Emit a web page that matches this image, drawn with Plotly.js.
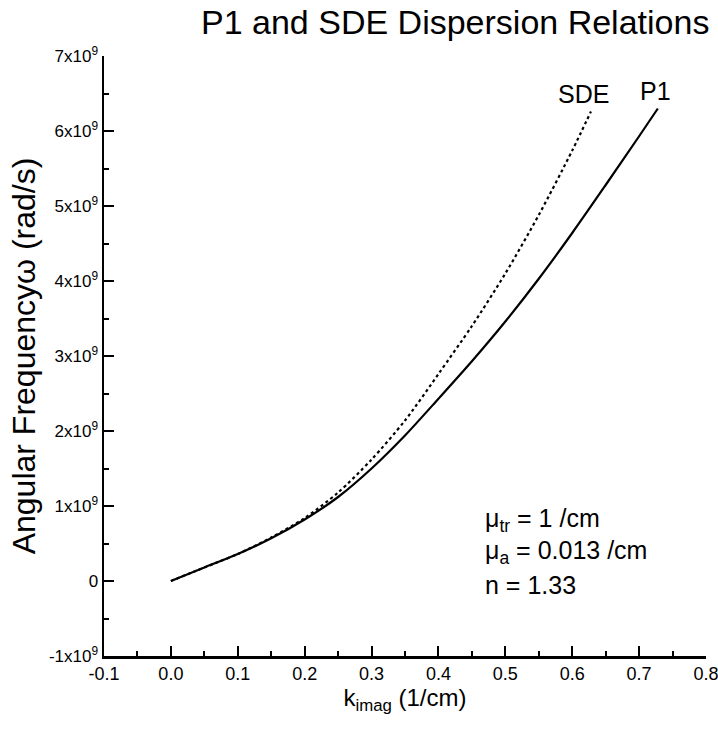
<!DOCTYPE html>
<html>
<head>
<meta charset="utf-8">
<script src="https://cdn.plot.ly/plotly-3.0.1.min.js"></script>
<style>html,body{margin:0;padding:0;background:#fff;}#chart{width:718px;height:730px;}</style>
</head>
<body>
<div id="chart"></div>
<script>
// Data (omega in rad/s)
const p1K = [0, 0.05, 0.1, 0.15, 0.2, 0.25, 0.3, 0.35, 0.4, 0.45, 0.5, 0.55, 0.6, 0.65, 0.7, 0.728];
const p1W = [0, 0.18e9, 0.36e9, 0.57e9, 0.82e9, 1.12e9, 1.50e9, 1.94e9, 2.43e9, 2.93e9, 3.46e9, 4.03e9, 4.64e9, 5.28e9, 5.93e9, 6.30e9];
const sdeK = [0, 0.05, 0.1, 0.15, 0.2, 0.25, 0.3, 0.35, 0.4, 0.45, 0.5, 0.55, 0.6, 0.628];
const sdeW = [0, 0.18e9, 0.36e9, 0.58e9, 0.84e9, 1.18e9, 1.62e9, 2.14e9, 2.76e9, 3.40e9, 4.10e9, 4.88e9, 5.74e9, 6.26e9];
const yTickVals = [-1e9, 0, 1e9, 2e9, 3e9, 4e9, 5e9, 6e9, 7e9];
const yTickText = ['-1x10<sup>9</sup>', '0', '1x10<sup>9</sup>', '2x10<sup>9</sup>', '3x10<sup>9</sup>', '4x10<sup>9</sup>', '5x10<sup>9</sup>', '6x10<sup>9</sup>', '7x10<sup>9</sup>'];
const xTickVals = [-0.1, 0.0, 0.1, 0.2, 0.3, 0.4, 0.5, 0.6, 0.7, 0.8];
const xTickText = ['-0.1', '0.0', '0.1', '0.2', '0.3', '0.4', '0.5', '0.6', '0.7', '0.8'];
const curveLabels = ['SDE', 'P1'];
const paramLines = ['μ<sub>tr</sub> = 1 /cm', 'μ<sub>a</sub> = 0.013 /cm', 'n = 1.33'];

const F = 'Liberation Sans, Arial, sans-serif';

const traces = [
  {x: p1K, y: p1W, mode: 'lines', name: 'P1', line: {color: '#000', width: 2.2, shape: 'spline', smoothing: 0.8}},
  {x: sdeK, y: sdeW, mode: 'lines', name: 'SDE', line: {color: '#000', width: 2.2, dash: 'dot', shape: 'spline', smoothing: 0.8}}
];

const annotations = [
  {x: sdeK[sdeK.length-1], y: sdeW[sdeW.length-1], xref: 'x', yref: 'y', text: curveLabels[0], showarrow: false, xanchor: 'center', yanchor: 'bottom', xshift: -7, yshift: 2, font: {family: F, size: 25, color: '#000'}},
  {x: p1K[p1K.length-1], y: p1W[p1W.length-1], xref: 'x', yref: 'y', text: curveLabels[1], showarrow: false, xanchor: 'center', yanchor: 'bottom', xshift: -2, yshift: 2, font: {family: F, size: 25, color: '#000'}}
];
const paramY = [0.227, 0.173, 0.118];
paramLines.forEach((t, i) => {
  annotations.push({x: 0.63, y: paramY[i], xref: 'paper', yref: 'paper', text: t, showarrow: false, xanchor: 'left', yanchor: 'middle', font: {family: F, size: 25, color: '#000'}});
});

const layout = {
  width: 718, height: 730,
  margin: {l: 104, r: 12, t: 56, b: 74},
  paper_bgcolor: '#fff', plot_bgcolor: '#fff',
  showlegend: false,
  font: {family: F, color: '#000'},
  title: {text: 'P1 and SDE Dispersion Relations', font: {family: F, size: 34, color: '#000'}, xref: 'container', yref: 'container', x: 0.634, xanchor: 'center', y: 0.97, yanchor: 'middle'},
  xaxis: {
    range: [-0.1, 0.8], tickmode: 'array', tickvals: xTickVals, ticktext: xTickText,
    showgrid: false, zeroline: false, showline: true, linecolor: '#000', linewidth: 2.5,
    ticks: 'inside', ticklen: 10, tickwidth: 2, tickcolor: '#000', ticklabeloverflow: 'allow',
    minor: {ticks: 'inside', ticklen: 5, tickwidth: 2, tickcolor: '#000', dtick: 0.05, showgrid: false},
    tickfont: {family: F, size: 18, color: '#000'},
    title: {text: 'k<sub>imag</sub> (1/cm)', font: {family: F, size: 24, color: '#000'}, standoff: 2}
  },
  yaxis: {
    range: [-1e9, 7e9], tickmode: 'array', tickvals: yTickVals, ticktext: yTickText,
    showgrid: false, zeroline: false, showline: true, linecolor: '#000', linewidth: 2.5,
    ticks: 'inside', ticklen: 10, tickwidth: 2, tickcolor: '#000', ticklabeloverflow: 'allow',
    minor: {ticks: 'inside', ticklen: 5, tickwidth: 2, tickcolor: '#000', dtick: 0.5e9, showgrid: false},
    tickfont: {family: F, size: 17, color: '#000'},
    title: {text: 'Angular Frequencyω (rad/s)', font: {family: F, size: 32, color: '#000'}, standoff: 4}
  },
  annotations: annotations
};

Plotly.newPlot('chart', traces, layout, {displayModeBar: false, staticPlot: true});
</script>
</body>
</html>
